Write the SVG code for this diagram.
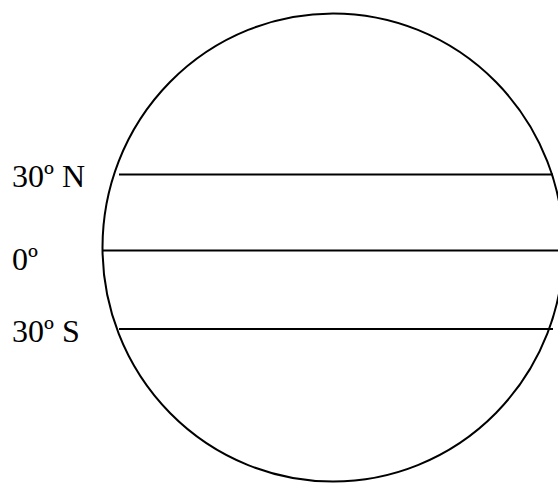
<svg xmlns="http://www.w3.org/2000/svg" width="558" height="483" viewBox="0 0 558 483">
<style>
.ln{stroke:#000;stroke-width:2;fill:none}
.lb{font-family:"Liberation Serif","Times New Roman",serif;font-size:32px;fill:#000}
</style>
<rect width="558" height="483" fill="#fff"/>
<g id="globe">
<ellipse class="ln" cx="333" cy="247.5" rx="230.5" ry="234"/>
</g>
<g id="connectors">
<line class="ln" x1="119" y1="174.5" x2="553" y2="174.5"/>
<line class="ln" x1="103" y1="250.5" x2="558" y2="250.5"/>
<line class="ln" x1="119" y1="329" x2="553" y2="329"/>
</g>
<g id="label-30n"><text class="lb" x="12" y="187">30º N</text></g>
<g id="label-0"><text class="lb" x="12" y="270">0º</text></g>
<g id="label-30s"><text class="lb" x="12" y="342">30º S</text></g>
</svg>
